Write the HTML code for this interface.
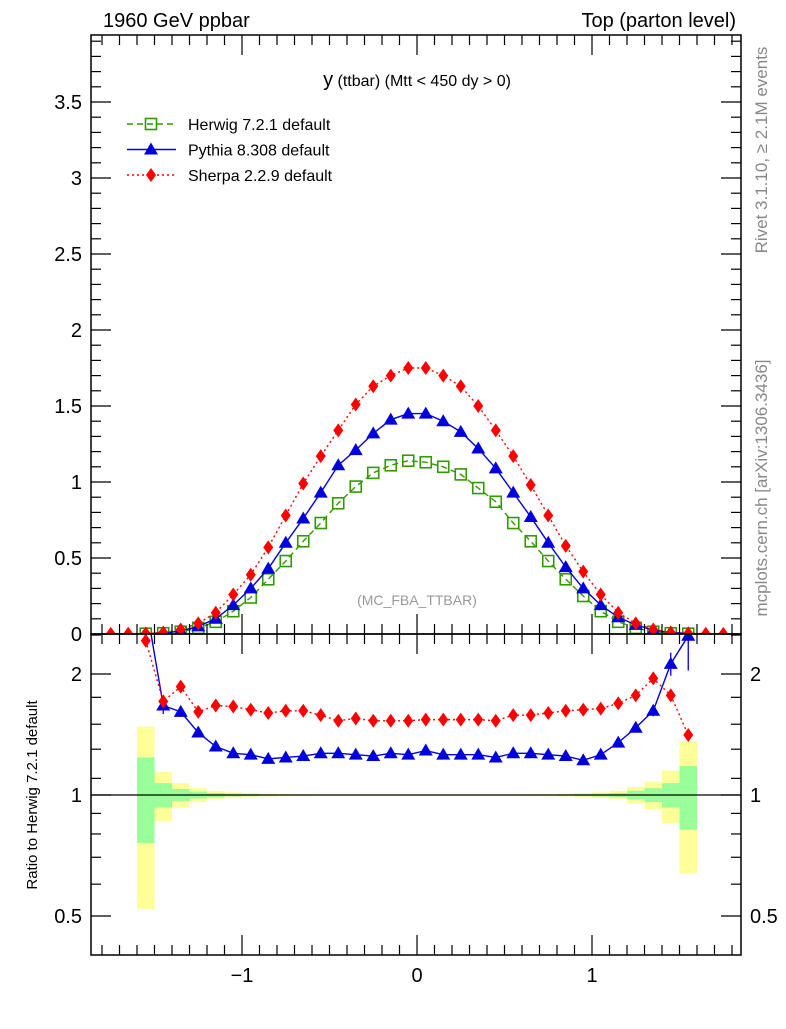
<!DOCTYPE html>
<html><head><meta charset="utf-8"><style>
body{margin:0;background:#fff;width:786px;height:1024px;overflow:hidden}
svg{font-family:"Liberation Sans",Arial,sans-serif}
</style></head><body>
<svg id="c" width="786" height="1024" xmlns="http://www.w3.org/2000/svg">
<defs>
<clipPath id="cm"><rect x="91" y="35" width="650" height="599"/></clipPath>
<clipPath id="cr"><rect x="91" y="634" width="650" height="321"/></clipPath>
</defs>
<text x="103" y="27" font-size="20">1960 GeV ppbar</text>
<text x="736" y="27" font-size="20" text-anchor="end">Top (parton level)</text>
<text x="417" y="86" font-size="16" text-anchor="middle"><tspan font-size="20">y</tspan> (ttbar) (Mtt &lt; 450 dy &gt; 0)</text>
<text x="417" y="605" font-size="14" fill="#999" text-anchor="middle">(MC_FBA_TTBAR)</text>
<text transform="translate(767,150) rotate(-90)" font-size="17" fill="#888" text-anchor="middle">Rivet 3.1.10, ≥ 2.1M events</text>
<text transform="translate(767,488) rotate(-90)" font-size="17" fill="#888" text-anchor="middle">mcplots.cern.ch [arXiv:1306.3436]</text>
<text transform="translate(37,795) rotate(-90)" font-size="15" text-anchor="middle">Ratio to Herwig 7.2.1 default</text>
<g id="g"></g>
</svg>
<script>
const centers=[-1.75,-1.65,-1.55,-1.45,-1.35,-1.25,-1.15,-1.05,-0.95,-0.85,-0.75,-0.65,-0.55,-0.45,-0.35,-0.25,-0.15,-0.05,0.05,0.15,0.25,0.35,0.45,0.55,0.65,0.75,0.85,0.95,1.05,1.15,1.25,1.35,1.45,1.55,1.65,1.75];
const herwig=[null,null,0.002,0.005,0.015,0.04,0.08,0.15,0.24,0.36,0.48,0.61,0.73,0.86,0.97,1.06,1.11,1.14,1.13,1.10,1.05,0.96,0.87,0.73,0.61,0.48,0.36,0.25,0.15,0.08,0.04,0.015,0.005,0.002,null,null];
const pythia=[null,null,0.002,0.006,0.02,0.05,0.10,0.19,0.30,0.43,0.60,0.76,0.93,1.11,1.21,1.32,1.41,1.45,1.45,1.40,1.33,1.22,1.09,0.93,0.77,0.60,0.44,0.30,0.19,0.11,0.06,0.025,0.01,0.004,null,null];
const sherpa=[0.001,0.002,0.004,0.01,0.03,0.07,0.14,0.26,0.39,0.57,0.78,0.99,1.17,1.34,1.51,1.63,1.70,1.75,1.75,1.70,1.63,1.50,1.34,1.17,0.98,0.78,0.58,0.41,0.26,0.14,0.07,0.03,0.01,0.004,0.002,0.001];
const ratioPythia=[null,null,3.0,1.67,1.61,1.43,1.32,1.27,1.26,1.23,1.24,1.25,1.27,1.27,1.26,1.25,1.27,1.26,1.29,1.26,1.26,1.26,1.24,1.27,1.27,1.26,1.25,1.22,1.26,1.35,1.47,1.62,2.12,2.49,null,null];
const ratioPythiaErr=[0,0,0,0.08,0.04,0.02,0.01,0.01,0.01,0.01,0.01,0.01,0.01,0.01,0.01,0.01,0.01,0.01,0.01,0.01,0.01,0.01,0.01,0.01,0.01,0.01,0.01,0.01,0.01,0.01,0.02,0.05,0.14,0.45,0,0];
const ratioSherpa=[null,null,2.42,1.71,1.86,1.61,1.67,1.66,1.63,1.60,1.62,1.62,1.58,1.53,1.55,1.53,1.53,1.53,1.54,1.54,1.54,1.54,1.53,1.58,1.58,1.60,1.62,1.63,1.64,1.69,1.77,1.95,1.77,1.41,null,null];
const bandGreen=[0,0,0.24,0.07,0.035,0.02,0.012,0.008,0.006,0.004,0.003,0.003,0.002,0.002,0.002,0.002,0.002,0.002,0.002,0.002,0.002,0.002,0.002,0.002,0.003,0.003,0.004,0.006,0.008,0.012,0.025,0.04,0.07,0.18,0,0];
const bandYellow=[0,0,0.48,0.14,0.07,0.04,0.024,0.016,0.012,0.008,0.006,0.005,0.004,0.004,0.004,0.004,0.004,0.004,0.004,0.004,0.004,0.004,0.004,0.004,0.005,0.006,0.008,0.012,0.016,0.024,0.047,0.08,0.15,0.36,0,0];
const yTicksMain=["0","0.5","1","1.5","2","2.5","3","3.5"];
const yTicksRatio=["0.5","1","2"];
const xTicks=["−1","0","1"];

const L=91,R=741,T=35,M=634,B=955;
const X=v=>417+v*175;
const Y=v=>M-v*152;
const YR=v=>795-121*Math.log2(v);
const NS='http://www.w3.org/2000/svg';
const g=document.getElementById('g');
function el(t,a,p){const e=document.createElementNS(NS,t);for(const k in a)e.setAttribute(k,a[k]);(p||g).appendChild(e);return e;}

const bandG=el('g',{});


centers.forEach((c,i)=>{
  if(!bandYellow[i])return;
  const x0=X(c-0.05),w=X(c+0.05)-x0;
  const r1=el('rect',{x:x0,y:YR(1+bandYellow[i]),width:w,height:YR(1-bandYellow[i])-YR(1+bandYellow[i]),fill:'#ffff99'},bandG);
  
  
  const r2=el('rect',{x:x0,y:YR(1+bandGreen[i]),width:w,height:YR(1-bandGreen[i])-YR(1+bandGreen[i]),fill:'#99ff99'},bandG);
  
  
});
const one=el('line',{x1:L,x2:R,y1:YR(1),y2:YR(1),stroke:'#000','stroke-width':1.2});



function marker(type,x,y,col,p){
  let m;
  if(type==='sq') m=el('rect',{x:x-5.5,y:y-5.5,width:11,height:11,fill:'none',stroke:col,'stroke-width':1.6},p);
  else if(type==='tri') m=el('polygon',{points:`${x},${y-7} ${x-7},${y+5} ${x+7},${y+5}`,fill:col},p);
  else m=el('polygon',{points:`${x},${y-7} ${x-5},${y} ${x},${y+7} ${x+5},${y}`,fill:col},p);
  
  
}
function series(name,vals,ymap,col,dash,type,clip,errs){
  const grp=el('g',{'clip-path':`url(#${clip})`});
  
  
  const pts=[];
  centers.forEach((c,i)=>{if(vals[i]!=null)pts.push([X(c),ymap(vals[i]),i]);});
  el('polyline',{points:pts.map(p=>p[0]+','+p[1]).join(' '),fill:'none',stroke:col,'stroke-width':1.4,'stroke-dasharray':dash},grp);
  pts.forEach(p=>{
    if(errs&&errs[p[2]]){const v=vals[p[2]],e=errs[p[2]];
      el('line',{x1:p[0],x2:p[0],y1:ymap(v+e),y2:ymap(Math.max(v-e,0.01)),stroke:col,'stroke-width':1.3},grp);}
    marker(type,p[0],p[1],col,grp);
  });
}
series('herwig-series',herwig,Y,'#339900','6,4','sq','cm');
series('pythia-series',pythia,Y,'#0000dd','','tri','cm');
series('sherpa-series',sherpa,Y,'#ff0000','2,3','dia','cm');
series('pythia-ratio',ratioPythia,YR,'#0000dd','','tri','cr',ratioPythiaErr);
series('sherpa-ratio',ratioSherpa,YR,'#ff0000','2,3','dia','cr');

[[T,M,'main-frame'],[M,B,'ratio-frame']].forEach(f=>{
  const r=el('rect',{x:L,y:f[0],width:R-L,height:f[1]-f[0],fill:'none',stroke:'#000','stroke-width':1.5});
  
  
});
const tk=el('g',{stroke:'#000','stroke-width':1.2});


for(let k=0;k<=39;k++){const v=k/10,y=Y(v),len=(k%5===0)?20:10;
  el('line',{x1:L,x2:L+len,y1:y,y2:y},tk);el('line',{x1:R,x2:R-len,y1:y,y2:y},tk);}
yTicksMain.forEach(s=>{const t=el('text',{x:82,y:Y(parseFloat(s))+7,'font-size':20,'text-anchor':'end'});t.textContent=s;
  
  });
[0.6,0.7,0.8,0.9,1.1,1.3,1.5,1.75,2.5].forEach(v=>{const y=YR(v);
  el('line',{x1:L,x2:L+10,y1:y,y2:y},tk);el('line',{x1:R,x2:R-10,y1:y,y2:y},tk);});
yTicksRatio.forEach(s=>{const y=YR(parseFloat(s));
  el('line',{x1:L,x2:L+20,y1:y,y2:y},tk);el('line',{x1:R,x2:R-20,y1:y,y2:y},tk);
  const t=el('text',{x:82,y:y+7,'font-size':20,'text-anchor':'end'});t.textContent=s;
  
  
  const t2=el('text',{x:750,y:y+7,'font-size':20});t2.textContent=s;
  
  });
for(let k=-18;k<=18;k++){const x=X(k/10),len=(k%10===0)?20:10;
  [T,M].forEach(y0=>el('line',{x1:x,x2:x,y1:y0,y2:y0+len},tk));
  [M,B].forEach(y0=>el('line',{x1:x,x2:x,y1:y0,y2:y0-len},tk));}
xTicks.forEach((s,i)=>{const t=el('text',{x:X(i-1),y:982,'font-size':20,'text-anchor':'middle'});t.textContent=s;
  
  });

const leg=el('g',{});


[['Herwig 7.2.1 default','#339900','6,4','sq'],['Pythia 8.308 default','#0000dd','','tri'],['Sherpa 2.2.9 default','#ff0000','2,3','dia']].forEach((e,i)=>{
  const y=124+i*25.5;
  const eg=el('g',{},leg);
  
  
  el('line',{x1:127,x2:176,y1:y,y2:y,stroke:e[1],'stroke-width':1.4,'stroke-dasharray':e[2]},eg);
  marker(e[3],151,y,e[1],eg);
  const t=el('text',{x:188,y:y+6,'font-size':16},eg);t.textContent=e[0];
});
</script>
</body></html>
